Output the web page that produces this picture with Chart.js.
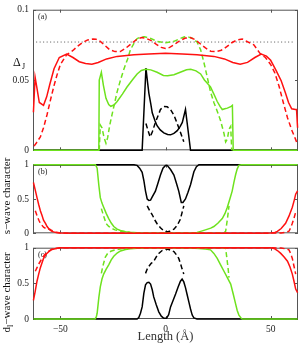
<!DOCTYPE html>
<html>
<head>
<meta charset="utf-8">
<script src="https://cdn.jsdelivr.net/npm/chart.js@4.4.1/dist/chart.umd.min.js"></script>
<style>
  body { margin: 0; background: #fff; }
  #wrap { position: relative; width: 304px; height: 347px; }
  canvas { position: absolute; left: 0; }
</style>
</head>
<body>
<div id="wrap">
  <canvas id="panel-a" width="304" height="160" style="top:0px"></canvas>
  <canvas id="panel-b" width="304" height="88" style="top:155px"></canvas>
  <canvas id="panel-c" width="304" height="109" style="top:238px"></canvas>
</div>
<script>
Chart.defaults.font.family = "'Liberation Serif', serif";
Chart.defaults.font.size = 9.5;
Chart.defaults.color = '#222';

// x extent and tick marks
const xMin = -63, xMax = 63;
const xTicks = [-50, 0, 50];
const yTicksA = [0, 0.05, 0.1];
const yTicksBC = [0, 0.5, 1];

// panel (a): Delta_J  [x, value]
const redSolidA = [[-62.8,0.027],[-62,0.052],[-61.2,0.045],[-60,0.034],[-58,0.032],[-56.5,0.038],[-55,0.047],[-53,0.058],[-50.5,0.066],[-47,0.0685],[-44,0.066],[-41,0.063],[-38,0.0618],[-35,0.0612],[-32,0.0625],[-28,0.065],[-23,0.0668],[-15,0.068],[-8,0.0685],[0,0.069],[8,0.0685],[15,0.068],[23,0.0668],[28,0.065],[32,0.0625],[35.5,0.0612],[39,0.0625],[42.5,0.066],[45.5,0.0685],[48,0.067],[50,0.064],[52.5,0.057],[55,0.0495],[57,0.041],[58.5,0.034],[60,0.0295],[61.8,0.029],[62.3,0.029],[62.8,0.016]];
const redDashA = [[-62.5,0.003],[-61.5,0.005],[-59.5,0.0095],[-58,0.016],[-56.3,0.0255],[-54.5,0.037],[-53,0.046],[-51.5,0.054],[-50,0.061],[-47,0.068],[-44,0.071],[-42,0.0738],[-39.5,0.0765],[-37,0.0785],[-34.5,0.0792],[-33,0.079],[-31,0.0775],[-29,0.0748],[-26.5,0.0715],[-24,0.0702],[-21.5,0.0702],[-19,0.0725],[-16.5,0.0755],[-14,0.0785],[-11.5,0.0802],[-9.5,0.0798],[-7,0.0782],[-4.5,0.0755],[-2,0.0732],[0,0.0725],[2,0.0732],[4.5,0.0755],[7,0.0782],[9.5,0.0798],[11.8,0.0802],[14,0.0788],[16.5,0.0758],[19,0.0728],[21.5,0.0705],[24,0.0702],[26.5,0.0712],[29,0.0735],[31.5,0.0765],[34,0.0785],[36.5,0.0792],[39,0.0772],[42,0.075],[45,0.0688],[47.5,0.066],[50,0.061],[52,0.055],[54,0.0455],[56,0.034],[58,0.0232],[60,0.0145],[61.9,0.0076],[62.8,0.004]];
const greenSolidA = [[-62.8,0],[-31.7,0],[-31.5,0.05],[-30.5,0.0555],[-29.5,0.046],[-28.3,0.037],[-27,0.0325],[-26,0.0313],[-24.5,0.0322],[-23,0.0347],[-20.5,0.04],[-18.3,0.045],[-15.5,0.0505],[-13.5,0.0543],[-11.5,0.0568],[-9.5,0.0577],[-7,0.0572],[-4,0.0555],[-1,0.0532],[1,0.053],[4,0.0537],[7,0.0555],[10,0.0573],[12,0.0577],[14.5,0.0565],[16.7,0.0543],[18.5,0.05],[20,0.0475],[21.4,0.045],[23,0.04],[24.6,0.0347],[26,0.031],[27,0.029],[28.2,0.0295],[29.4,0.03],[31,0.031],[31.8,0.032],[32.2,0],[62.8,0]];
const greenDashA = [[-31.5,0],[-31,0.018],[-30.2,0.016],[-29.2,0.009],[-28.3,0.005],[-27.5,0.009],[-26.5,0.018],[-25.4,0.0255],[-23,0.0416],[-21.5,0.0495],[-19.8,0.0577],[-18,0.065],[-16.7,0.0715],[-15,0.076],[-13.5,0.0795],[-11.5,0.0807],[-10,0.0808],[-7,0.0795],[-4,0.0775],[0,0.0765],[4,0.0775],[7,0.0795],[9,0.0807],[11,0.0805],[13,0.0795],[15,0.077],[16.7,0.0715],[18,0.064],[19,0.0577],[21.4,0.0416],[23,0.034],[24.6,0.0278],[26.2,0.021],[27.8,0.012],[28.6,0.006],[29.4,0.008],[30.2,0.015],[31,0.017],[31.5,0]];
const blackSolidA = [[-62.8,0],[-11.1,0],[-9.3,0.0585],[-8.5,0.048],[-7.9,0.0405],[-7,0.033],[-6.3,0.0267],[-5,0.021],[-4,0.0175],[-2.5,0.0145],[-0.8,0.0124],[1,0.0112],[2.4,0.011],[4,0.012],[5.6,0.014],[7,0.017],[8,0.0198],[9.5,0.029],[11.9,0],[62.8,0]];
const blackDashA = [[-9.3,0.019],[-8.3,0.014],[-7.3,0.0095],[-6.3,0.013],[-4.8,0.0198],[-2.4,0.029],[-0.8,0.0312],[0.8,0.031],[2.4,0.029],[4,0.025],[4.8,0.022],[6.3,0.016],[7.1,0.0129],[7.9,0.0094],[8.7,0.006]];
const bulkGapA = [[-61.5,0.077],[61.5,0.077]];

// panel (b): s-wave character
const redSolidB = [[-62.8,0.74],[-62,0.64],[-61.1,0.52],[-60.3,0.42],[-59.5,0.33],[-58.7,0.26],[-58,0.19],[-57,0.14],[-56.3,0.099],[-55,0.05],[-54,0.028],[-52,0.01],[-50,0.003],[-45,0],[45,0],[50,0.004],[52,0.012],[53.2,0.028],[55,0.07],[57.1,0.145],[58.7,0.25],[60.3,0.38],[61.2,0.48],[61.9,0.57],[62.8,0.62]];
const redDashB = [[-61.9,0.33],[-61,0.25],[-60.2,0.19],[-59.5,0.145],[-58,0.09],[-56.3,0.056],[-55,0.06],[-54,0.04],[-52,0.015],[-50,0.005],[-45,0],[45,0],[55,0.005],[57,0.015],[58.7,0.03],[59.5,0.08],[60.3,0.145],[61.1,0.22],[61.9,0.31]];
const greenSolidB = [[-62.8,1],[-33.3,1],[-32.5,0.95],[-31.7,0.7],[-31,0.52],[-30.2,0.44],[-29.4,0.38],[-28.2,0.29],[-27,0.215],[-25.8,0.15],[-24.6,0.099],[-23,0.06],[-21.4,0.042],[-19,0.024],[-16.7,0.014],[-12,0.004],[-8,0],[8,0],[12,0.005],[15,0.012],[16.7,0.028],[19,0.05],[21.5,0.075],[23,0.099],[25,0.15],[27,0.215],[28.3,0.29],[29.4,0.38],[30.6,0.5],[31.7,0.615],[32.5,0.74],[33.3,0.85],[34.1,0.94],[34.9,0.99],[36,1],[62.8,1]];
const greenDashB = [[-30.5,0.36],[-29.4,0.25],[-28.2,0.14],[-27,0.1],[-25.5,0.07],[-24,0.05],[-21,0.03],[-17,0.012],[-12,0.004],[-8,0],[8,0],[20,0.002],[27,0.005],[28,0.01],[28.6,0.03],[29.4,0.2],[30.2,0.4]];
const blackSolidB = [[-62.8,1],[-15,1],[-13.5,0.99],[-12.3,0.95],[-11.1,0.89],[-10.3,0.77],[-9.5,0.615],[-8.7,0.5],[-7.9,0.48],[-7.1,0.483],[-6.3,0.53],[-4.8,0.615],[-3.6,0.73],[-2.4,0.85],[-1.2,0.95],[0,0.99],[0.8,0.99],[2.4,0.93],[4,0.85],[5.2,0.73],[6.3,0.615],[7.5,0.45],[8.3,0.45],[9.5,0.5],[10.7,0.6],[11.9,0.708],[13.5,0.897],[14.7,0.97],[15.9,1],[62.8,1]];
const blackDashB = [[-8.7,0.4],[-7.5,0.33],[-6.3,0.27],[-5,0.19],[-4,0.14],[-2.4,0.08],[-0.8,0.035],[0.5,0.02],[2,0.03],[4,0.06],[5.6,0.117],[7,0.2],[7.9,0.305],[8.7,0.4]];

// panel (c): d-wave character
const redSolidC = [[-62.8,0.26],[-62,0.38],[-61.1,0.53],[-60.3,0.63],[-59.5,0.72],[-58.7,0.79],[-58,0.85],[-56.8,0.91],[-55.5,0.945],[-54,0.975],[-52,0.99],[-50,1],[50,1],[51.6,0.99],[53.2,0.96],[54.8,0.92],[56.4,0.87],[58,0.81],[59.2,0.73],[60.3,0.63],[61.1,0.53],[61.9,0.42],[62.8,0.37]];
const redDashC = [[-61.9,0.67],[-61.1,0.72],[-60.3,0.77],[-59.5,0.81],[-58.7,0.85],[-57.5,0.9],[-56,0.94],[-54,0.98],[-50,1],[50,1],[55,0.995],[57,0.985],[58.7,0.97],[59.5,0.92],[60.3,0.85],[61.1,0.74],[61.9,0.63]];
const greenSolidC = [[-62.8,0],[-33.5,0],[-32.9,0.03],[-32.5,0.08],[-31.7,0.3],[-31,0.45],[-30.2,0.56],[-29.4,0.63],[-28.2,0.7],[-27,0.76],[-25.8,0.83],[-24.6,0.88],[-23,0.925],[-21.4,0.955],[-19,0.975],[-16.7,0.985],[-12,0.997],[-8,1],[8,1],[12,0.997],[16,0.99],[19,0.98],[21.4,0.97],[23,0.92],[24.6,0.85],[26.2,0.76],[27.8,0.67],[29.4,0.58],[31,0.49],[32.2,0.35],[33.3,0.215],[34.1,0.12],[34.9,0.055],[36,0.01],[36.5,0],[62.8,0]];
const greenDashC = [[-30.5,0.64],[-29.8,0.74],[-28.6,0.87],[-27.5,0.92],[-26,0.95],[-24,0.97],[-20,0.99],[-15,1],[15,1],[27.5,1],[28.6,0.99],[29.2,0.85],[29.8,0.7],[30.2,0.58]];
const blackSolidC = [[-62.8,0],[-13.5,0],[-12.7,0.02],[-11.9,0.08],[-11.1,0.17],[-10.3,0.36],[-9.5,0.48],[-8.7,0.51],[-7.9,0.515],[-7.1,0.49],[-6.3,0.41],[-5.6,0.31],[-4.4,0.2],[-3.2,0.1],[-2,0.04],[-0.8,0.01],[0.5,0.01],[1.5,0.06],[2.4,0.17],[3.6,0.26],[4.8,0.35],[6,0.45],[7.1,0.53],[7.9,0.56],[8.7,0.52],[9.5,0.44],[10.3,0.34],[11.1,0.24],[11.9,0.14],[12.7,0.055],[13.5,0.015],[15,0],[62.8,0]];
const blackDashC = [[-9.5,0.64],[-8.7,0.7],[-7.9,0.74],[-6.8,0.78],[-5.6,0.81],[-4.4,0.87],[-3.2,0.92],[-1.6,0.96],[0,0.98],[1.6,0.975],[3,0.96],[4,0.945],[5.2,0.9],[6.3,0.85],[7.1,0.78],[7.9,0.7],[8.7,0.63]];

const RED = '#ff1010';
const GREEN = '#6ee21e';
const BLACK = '#000000';

function line(points, color, dashed, order) {
    return {
        data: points.map(p => ({ x: p[0], y: p[1] })),
        borderColor: color,
        borderWidth: 1.5,
        borderDash: dashed ? [5, 3] : [],
        pointRadius: 0,
        tension: 0,
        fill: false,
        clip: 3,
        order: order
    };
}

// frame box with inward ticks, like the original figure
const framePlugin = {
    id: 'frame',
    beforeDatasetsDraw(chart, args, opts) {
        const { ctx, chartArea: a, scales } = chart;
        ctx.save();
        ctx.strokeStyle = '#555';
        ctx.lineWidth = 1;
        ctx.strokeRect(a.left + 0.5, a.top + 0.5, a.width - 1, a.height - 1);
        ctx.beginPath();
        xTicks.forEach(v => {
            const px = Math.round(scales.x.getPixelForValue(v)) + 0.5;
            ctx.moveTo(px, a.top); ctx.lineTo(px, a.top + 3);
            ctx.moveTo(px, a.bottom); ctx.lineTo(px, a.bottom - 3);
        });
        opts.yTicks.forEach(v => {
            const py = Math.round(scales.y.getPixelForValue(v)) + 0.5;
            ctx.moveTo(a.left, py); ctx.lineTo(a.left + 3, py);
            ctx.moveTo(a.right, py); ctx.lineTo(a.right - 3, py);
        });
        ctx.stroke();
        ctx.fillStyle = '#222';
        ctx.font = "8px 'Liberation Serif'";
        ctx.textBaseline = 'middle';
        ctx.fillText(opts.label, a.left + 5, a.top + 7);
        ctx.restore();
    }
};

function makeChart(id, datasets, yMin, yMax, yTicks, label, padTop, padBottom, showX, titlePlugin) {
    return new Chart(document.getElementById(id), {
        type: 'line',
        data: { datasets: datasets },
        options: {
            responsive: false,
            animation: false,
            devicePixelRatio: 1,
            layout: { padding: { left: 0, right: 6, top: padTop, bottom: padBottom } },
            plugins: {
                legend: { display: false },
                tooltip: { enabled: false },
                frame: { yTicks: yTicks, label: label }
            },
            scales: {
                x: {
                    type: 'linear',
                    min: xMin,
                    max: xMax,
                    display: showX,
                    afterBuildTicks: s => { s.ticks = xTicks.map(v => ({ value: v })); },
                    afterFit: s => { s.height = showX ? 28 : 0; },
                    grid: { display: false, drawTicks: false },
                    border: { display: false },
                    ticks: {
                        padding: 5,
                        font: { size: 9.5 },
                        callback: v => String(v).replace('-', '\u2212')
                    },
                    title: {
                        display: true,
                        text: 'Length (\u00c5)',
                        font: { size: 12.5 },
                        color: '#333',
                        padding: { top: 0, bottom: 3 }
                    }
                },
                y: {
                    min: yMin,
                    max: yMax,
                    afterBuildTicks: s => { s.ticks = yTicks.map(v => ({ value: v })); },
                    afterFit: s => { s.width = 33; },
                    grid: { display: false, drawTicks: false },
                    border: { display: false },
                    ticks: { padding: 4, font: { size: 9.5 }, callback: v => String(v) }
                }
            }
        },
        plugins: [framePlugin, titlePlugin]
    });
}

const deltaTitle = {
    id: 'deltaTitle',
    afterDraw(chart) {
        const ctx = chart.ctx;
        ctx.save();
        ctx.fillStyle = '#111';
        ctx.font = "12px 'Liberation Serif'";
        ctx.fillText('\u0394', 13, 66);
        ctx.font = "8px 'Liberation Serif'";
        ctx.fillText('J', 22, 69);
        ctx.restore();
    }
};

const sTitle = {
    id: 'sTitle',
    afterDraw(chart) {
        const ctx = chart.ctx;
        const a = chart.chartArea;
        ctx.save();
        ctx.fillStyle = '#111';
        ctx.translate(10, (a.top + a.bottom) / 2 - 3);
        ctx.rotate(-Math.PI / 2);
        ctx.textAlign = 'center';
        ctx.font = "11px 'Liberation Serif'";
        ctx.fillText('s\u2212wave character', 0, 0);
        ctx.restore();
    }
};

const dTitle = {
    id: 'dTitle',
    afterDraw(chart) {
        const ctx = chart.ctx;
        const a = chart.chartArea;
        ctx.save();
        ctx.fillStyle = '#111';
        ctx.translate(10, (a.top + a.bottom) / 2 + 9);
        ctx.rotate(-Math.PI / 2);
        ctx.font = "11px 'Liberation Serif'";
        const main = '\u2212wave character';
        const dW = ctx.measureText('d').width;
        ctx.font = "8px 'Liberation Serif'";
        const lW = ctx.measureText('l').width;
        ctx.font = "11px 'Liberation Serif'";
        const total = dW + lW + ctx.measureText(main).width;
        let x = -total / 2;
        ctx.fillText('d', x, 0);
        x += dW;
        ctx.font = "8px 'Liberation Serif'";
        ctx.fillText('l', x, 3);
        x += lW;
        ctx.font = "11px 'Liberation Serif'";
        ctx.fillText(main, x, 0);
        ctx.restore();
    }
};

makeChart('panel-a', [
    line(redSolidA, RED, false, 1),
    line(redDashA, RED, true, 2),
    line(greenSolidA, GREEN, false, 3),
    line(greenDashA, GREEN, true, 4),
    line(blackSolidA, BLACK, false, 5),
    line(blackDashA, BLACK, true, 6),
    Object.assign(line(bulkGapA, '#555', false, 7), { borderWidth: 1, borderDash: [1, 2.5] })
], 0, 0.1, yTicksA, '(a)', 6, 8, false, deltaTitle);

makeChart('panel-b', [
    line(redSolidB, RED, false, 1),
    line(redDashB, RED, true, 2),
    line(greenSolidB, GREEN, false, 3),
    line(greenDashB, GREEN, true, 4),
    line(blackSolidB, BLACK, false, 5),
    line(blackDashB, BLACK, true, 6)
], 0, 1, yTicksBC, '(b)', 8, 8, false, sTitle);

makeChart('panel-c', [
    line(redSolidC, RED, false, 1),
    line(redDashC, RED, true, 2),
    line(greenSolidC, GREEN, false, 3),
    line(greenDashC, GREEN, true, 4),
    line(blackSolidC, BLACK, false, 5),
    line(blackDashC, BLACK, true, 6)
], 0, 1, yTicksBC, '(c)', 8, 0, true, dTitle);
</script>
</body>
</html>
